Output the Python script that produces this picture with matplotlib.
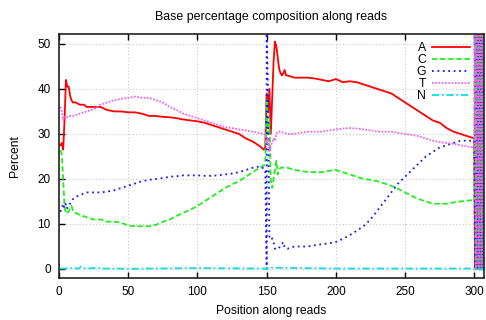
import matplotlib
matplotlib.use("Agg")
import matplotlib.pyplot as plt

plt.rcParams['font.family'] = ['Liberation Sans', 'DejaVu Sans']
plt.rcParams['font.size'] = 8

# read 1 and read 2
posA = [1, 2, 3, 4, 5, 6, 7, 8, 9, 10, 12, 15, 18, 20, 25, 30, 35, 40, 45, 50,
        55, 60, 65, 70, 75, 80, 85, 90, 95, 100, 105, 110, 115, 120, 125, 130, 135, 140, 145, 148,
        149, 150, 151, 152, 153, 154, 155, 156, 157, 158, 159, 160, 161, 162, 163, 164, 165, 170, 175, 180,
        185, 190, 195, 200, 205, 210, 215, 220, 225, 230, 235, 240, 245, 250, 255, 260, 265, 270, 275, 280,
        285, 290, 295, 300]
A = [27.5, 28, 26.5, 33, 42, 40.5, 40.5, 38.5, 37.5, 37, 37, 36.5, 36.5, 36, 36, 36, 35.3, 35, 35, 34.8,
     34.8, 34.5, 34, 34, 33.8, 33.7, 33.5, 33.2, 33, 32.8, 32.5, 32, 31.5, 31, 30.5, 30, 29, 28.3, 27.3, 26.5,
     27, 39, 35, 40, 30, 38, 46, 50.5, 49.5, 47, 44.5, 43.5, 43, 43.5, 44.2, 43, 43, 42.5, 42.5, 42.5,
     42.3, 42, 41.7, 42.2, 41.5, 41.7, 41.5, 41, 40.5, 40, 39.5, 39, 38, 37, 36, 35, 34, 33, 32.5, 31.3,
     30.5, 30, 29.5, 29]

posC = [1, 2, 3, 4, 5, 6, 7, 8, 9, 10, 12, 15, 20, 25, 30, 35, 40, 45, 50, 55,
        60, 65, 70, 75, 80, 85, 90, 95, 100, 105, 110, 115, 120, 125, 130, 135, 140, 145, 148, 149,
        150, 151, 152, 153, 154, 155, 156, 157, 158, 159, 160, 165, 170, 175, 180, 185, 190, 195, 200, 205,
        210, 215, 220, 225, 230, 235, 240, 245, 250, 255, 260, 265, 270, 275, 280, 285, 290, 295, 300]
C = [26.4, 25.5, 20, 13.8, 12.3, 12.5, 12.8, 13.5, 14, 13, 12.5, 12, 11.5, 11, 11, 10.5, 10.5, 10.3, 9.6, 9.5,
     9.5, 9.5, 9.8, 10.5, 11, 11.8, 12.5, 13.2, 14, 15, 16, 17, 18, 18.8, 19.5, 20.5, 21.5, 22.5, 23, 23.5,
     38, 30, 33, 19.8, 18, 20, 22, 24, 21, 22, 22.5, 22.5, 22, 21.8, 21.5, 21.5, 21.5, 21.8, 22, 21.5,
     21, 20.5, 20, 19.8, 19.5, 19, 18.5, 17.8, 17, 16.2, 15.5, 15, 14.5, 14.5, 14.5, 14.8, 15, 15.2, 15.3]

posG = [1, 2, 3, 4, 5, 6, 7, 8, 10, 12, 15, 20, 25, 30, 35, 40, 45, 50, 55, 60,
        65, 70, 75, 80, 85, 90, 95, 100, 105, 110, 115, 120, 125, 130, 135, 140, 145, 148, 149, 150,
        150, 151, 152, 153, 154, 155, 156, 157, 158, 160, 161, 162, 163, 165, 170, 175, 180, 185, 190, 195,
        200, 205, 210, 215, 220, 225, 230, 235, 240, 245, 250, 255, 260, 265, 270, 275, 280, 285, 290, 295,
        300]
G = [12.7, 13.5, 14.5, 13.5, 14.5, 13.5, 14, 14.5, 15.5, 16, 16.4, 17, 17, 17, 17.2, 17.5, 18, 18.5, 19, 19.5,
     19.8, 20, 20.2, 20.5, 20.6, 20.8, 20.8, 20.8, 20.7, 20.7, 20.8, 21, 21.2, 21.5, 22, 22.5, 22.8, 22.3, 22, 0,
     53, 39, 7, 6.5, 6.8, 6, 4.5, 4.3, 4.5, 5, 5.5, 6, 4.8, 4.5, 5, 5, 5, 5.3, 5.5, 5.7,
     6, 6.7, 7.5, 8.5, 9.5, 11, 13, 15, 17, 19, 20.5, 22, 23.5, 25, 26, 27, 27.5, 28, 28.5, 28.5,
     28.5]

posT = [1, 2, 3, 4, 5, 7, 10, 15, 20, 25, 30, 35, 40, 45, 50, 55, 60, 65, 70, 75,
        80, 85, 90, 95, 100, 105, 110, 115, 120, 125, 130, 135, 140, 145, 148, 149, 150, 151, 152, 153,
        154, 155, 156, 157, 158, 160, 165, 170, 175, 180, 185, 190, 195, 200, 205, 210, 215, 220, 225, 230,
        235, 240, 245, 250, 255, 260, 265, 270, 275, 280, 285, 290, 295, 300]
T = [36, 35, 33.1, 33.8, 33.5, 34, 34, 34.5, 35, 35.5, 36.5, 37, 37.5, 37.8, 38, 38.3, 38, 38, 37.5, 37,
     36, 35.3, 34.5, 34, 33.5, 33, 32.5, 32, 31.5, 31.3, 31, 30.8, 30.5, 30.2, 30, 29.8, 28, 29, 26, 27.5,
     28, 29, 28.5, 30, 30.5, 30.5, 30, 30, 30.3, 30.5, 30.5, 30.5, 30.8, 31, 31.2, 31.3, 31.2, 31, 30.8, 30.5,
     30.5, 30.5, 30.2, 30, 29.8, 29.5, 29, 28.5, 28.2, 28, 27.8, 27.5, 27.2, 27]

posN = [1, 5, 10, 14, 16, 18, 20, 25, 28, 30, 40, 50, 100, 148, 150, 152, 200, 250, 300]
N = [0.1, 0.1, 0.2, 0.1, 0.5, 0.2, 0.1, 0.2, 0.3, 0.1, 0.1, 0.05, 0.2, 0.1, 0.05, 0.3, 0.1, 0.1, 0.1]

# the last few positions jump between 0 and 100 for every base
tail_pos = [300.5, 301, 301.5, 302, 302.5, 303, 303.5, 304, 304.5, 305, 305.5, 306, 306.5, 307]
tailA = [0, 100, 0, 100, 0, 100, 0, 100, 0, 100, 0, 100, 0, 100]
tailC = [100, 0, 100, 0, 100, 0, 100, 0, 100, 0, 100, 0, 100, 0]
tailG = [0, 100, 100, 0, 0, 100, 100, 0, 0, 100, 100, 0, 0, 100]
tailT = [100, 0, 0, 100, 100, 0, 0, 100, 100, 0, 0, 100, 100, 0]
tailN = [0, 0, 0, 0, 0, 0, 0, 0, 0, 0, 0, 0, 0, 0]

fig = plt.figure(figsize=(4.86, 3.2), dpi=100)
ax = fig.add_axes([59 / 486, 1 - 278 / 320, 425 / 486, 244 / 320])

ax.plot(posA + tail_pos, A + tailA, color='#ff0000', lw=1.3, ls='-', label='A')
ax.plot(posC + tail_pos, C + tailC, color='#22ee22', lw=1.3, ls=(0, (3, 1.5)), label='C')
ax.plot(posG + tail_pos, G + tailG, color='#1a1aee', lw=1.3, ls=(0, (1, 2)), label='G')
ax.plot(posT + tail_pos, T + tailT, color='#ee66ee', lw=1.3, ls=(0, (1, 0.8)), label='T')
ax.plot(posN + tail_pos, N + tailN, color='#11dddd', lw=1.3, ls=(0, (4, 1.5, 1, 1.5)), label='N')

ax.set_xlim(0, 307)
ax.set_ylim(-2, 52.2)
ax.set_xticks([0, 50, 100, 150, 200, 250, 300])
ax.set_yticks([0, 10, 20, 30, 40, 50])
ax.tick_params(direction='in', top=True, right=True, length=4, width=1, pad=6, labelsize=8.5)
ax.grid(True, color='#c8c8c8', ls=(0, (1, 2)), lw=0.8)
for s in ax.spines.values():
    s.set_linewidth(1.2)
    s.set_color('#222222')

ax.set_title('Base percentage composition along reads', pad=10, fontsize=8.9)
ax.set_xlabel('Position along reads', fontsize=8.7, labelpad=5)
ax.set_ylabel('Percent', fontsize=8.7, labelpad=12)

ax.legend(loc='upper right', bbox_to_anchor=(0.967, 0.968), frameon=False, markerfirst=False,
          handlelength=3.1, handletextpad=0.5, labelspacing=0.0, borderaxespad=0, borderpad=0,
          fontsize=8.8)

fig.savefig('out.png', dpi=100)
